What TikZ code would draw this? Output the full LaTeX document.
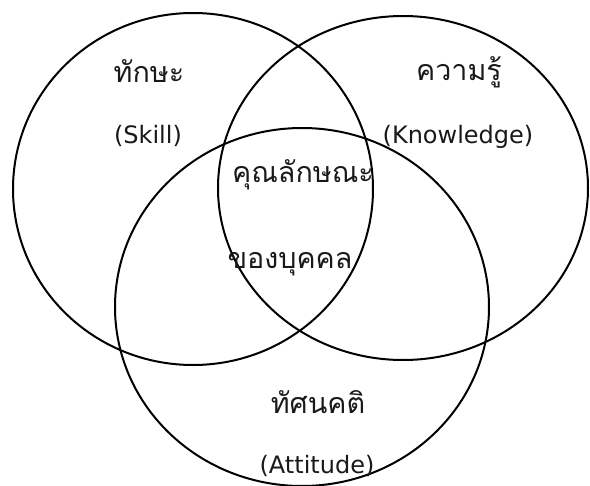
\documentclass[tikz,border=0pt]{standalone}
\usepackage{fontspec}
\setmainfont{DejaVu Sans}
\newfontfamily\thaifont[Script=Thai]{Loma}
\usepackage{tikz}
\usetikzlibrary{positioning}

\begin{document}
\begin{tikzpicture}[x=0.75pt, y=-0.75pt,
  venn/.style={draw, line width=1.5pt},
  thlabel/.style={inner sep=0pt, anchor=base, font=\thaifont\fontsize{21.5pt}{25pt}\selectfont, text=black!90},
  enlabel/.style={inner sep=0pt, anchor=base, font=\fontsize{18pt}{21pt}\selectfont, text=black!90}]
\useasboundingbox (0,0) rectangle (590,486);
% three sets
\draw[venn] (193,189) ellipse [x radius=180, y radius=176];
\draw[venn] (403,188) ellipse [x radius=185, y radius=172];
\draw[venn] (302,307) ellipse [x radius=187, y radius=179];
% labels
\node[thlabel] (skillth) at (149,82) {ทักษะ};
\node[enlabel] (skill) at (148,143) {(Skill)};
\node[thlabel] (knowth) at (459,80) {ความรู้};
\node[enlabel] (know) at (458,143) {(Knowledge)};
\node[thlabel] (traitA) at (303,182) {คุณลักษณะ};
\node[thlabel] (traitB) at (290,268) {ของบุคคล};
\node[thlabel] (attth) at (318,413) {ทัศนคติ};
\node[enlabel] (att) at (317,473) {(Attitude)};
\end{tikzpicture}
\end{document}
